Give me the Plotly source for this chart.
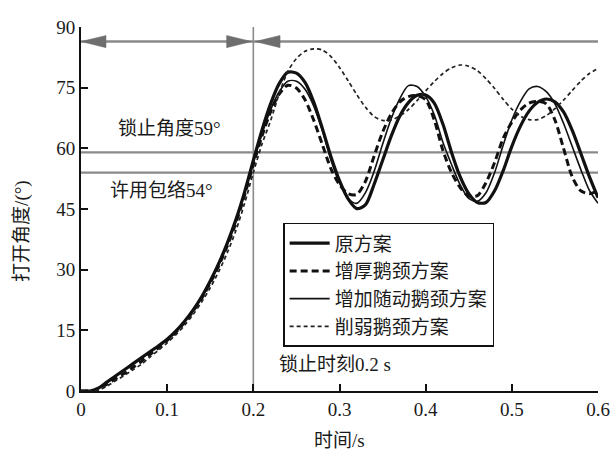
import plotly.graph_objects as go

# ---------------- data ----------------
TIME = [0.00, 0.01, 0.02, 0.03, 0.04, 0.05, 0.06, 0.07, 0.08, 0.09,
        0.10, 0.11, 0.12, 0.13, 0.14, 0.15, 0.16, 0.17, 0.18, 0.19,
        0.20, 0.21, 0.22, 0.23, 0.24, 0.25, 0.26, 0.27, 0.28, 0.29,
        0.30, 0.31, 0.32, 0.33, 0.34, 0.35, 0.36, 0.37, 0.38, 0.39,
        0.40, 0.41, 0.42, 0.43, 0.44, 0.45, 0.46, 0.47, 0.48, 0.49,
        0.50, 0.51, 0.52, 0.53, 0.54, 0.55, 0.56, 0.57, 0.58, 0.59,
        0.60]

ORIGINAL = [0, 0, 0.7, 2.2, 3.7, 5.2, 6.7, 8.2, 9.7, 11.2,
            12.8, 14.8, 17.2, 20.0, 23.3, 27.2, 31.6, 36.7, 42.5, 49.3,
            57.0, 64.5, 71.0, 76.0, 78.8, 78.6, 76.3, 71.5, 65.0, 58.0,
            52.0, 47.5, 45.1, 46.0, 51.0, 57.0, 63.0, 68.0, 71.3, 73.1,
            73.2, 71.2, 66.0, 59.0, 53.0, 48.8, 46.6, 46.6, 49.5, 54.5,
            60.5, 65.5, 69.2, 71.4, 72.2, 71.5, 69.0, 64.5, 58.8, 53.0,
            47.8]

THICKENED = [0, 0, 0.4, 1.7, 3.0, 4.3, 5.8, 7.3, 9.0, 10.7,
             12.5, 14.5, 16.9, 19.7, 22.9, 26.7, 31.0, 36.0, 41.7, 48.5,
             56.0, 63.0, 69.0, 73.4, 75.6, 74.9, 72.0, 67.0, 61.0, 55.0,
             51.0, 48.8, 48.6, 51.8, 58.0, 64.0, 68.5, 71.5, 72.8, 73.0,
             72.0, 67.0, 59.5, 54.0, 50.3, 48.2, 48.3, 51.5, 56.5, 62.5,
             66.5, 69.5, 71.2, 71.6, 71.0, 67.0, 60.0, 53.0, 49.5, 48.8,
             49.5]

FOLLOWER = [0, 0, 0.6, 2.1, 3.6, 5.1, 6.6, 8.1, 9.6, 11.1,
            12.7, 14.6, 17.0, 19.8, 23.0, 26.9, 31.3, 36.4, 42.2, 49.0,
            56.5, 63.5, 69.5, 74.0, 76.6, 76.6, 74.6, 70.5, 64.5, 57.2,
            51.5, 47.6, 46.4, 49.0, 54.2, 61.0, 67.3, 72.3, 75.5, 75.3,
            72.8, 68.3, 61.5, 56.0, 51.0, 47.6, 46.9, 49.0, 54.0, 60.8,
            67.0, 71.6, 74.7, 75.3, 74.0, 71.0, 66.2, 60.5, 54.8, 49.6,
            46.4]

WEAKENED = [0, 0, 0.2, 1.2, 2.5, 3.8, 5.2, 6.6, 8.4, 10.1,
            11.9, 13.9, 16.2, 18.9, 22.0, 25.5, 29.6, 34.3, 39.8, 46.5,
            54.0, 61.0, 66.8, 73.5, 79.0, 82.2, 84.0, 84.6, 84.3, 82.7,
            80.0, 76.7, 73.3, 70.2, 67.9, 66.9, 67.0, 68.0, 69.6, 71.8,
            74.2, 76.5, 78.5, 79.9, 80.6, 80.3, 79.2, 77.2, 74.8, 72.1,
            69.7, 68.0, 67.1, 67.1, 68.1, 69.8, 71.9, 74.3, 76.6, 78.5,
            79.7]

SERIES_NAMES = ["原方案", "增厚鹅颈方案", "增加随动鹅颈方案", "削弱鹅颈方案"]

LOCK_TIME = 0.2        # 锁止时刻 (s)
LOCK_ANGLE = 59        # 锁止角度 (deg)
ENVELOPE_ANGLE = 54    # 许用包络 (deg)
STAGE_LINE_Y = 86.4    # stage arrow level (deg)
T_MAX = 0.6
ANGLE_MAX = 90
X_TICKS = [0, 0.1, 0.2, 0.3, 0.4, 0.5, 0.6]
Y_TICKS = [0, 15, 30, 45, 60, 75, 90]

# ---------------- styling ----------------
FONT = "Liberation Serif, Noto Sans CJK SC, serif"
TXT = "#1a1a1a"
GRAY = "#8a8a8a"
ARROW_GRAY = "#6e6e6e"

styles = [
    dict(color="#111111", width=3.2, dash="solid"),
    dict(color="#111111", width=3.0, dash="7px,4px"),
    dict(color="#111111", width=1.6, dash="solid"),
    dict(color="#222222", width=1.7, dash="4px,3px"),
]
data_sets = [ORIGINAL, THICKENED, FOLLOWER, WEAKENED]

fig = go.Figure()
for name, ys, st in zip(SERIES_NAMES, data_sets, styles):
    fig.add_trace(go.Scatter(
        x=TIME, y=ys, mode="lines", name=name,
        line=dict(color=st["color"], width=st["width"], dash=st["dash"],
                  shape="spline", smoothing=0.8),
    ))

shapes = []
for yv in (LOCK_ANGLE, ENVELOPE_ANGLE):
    shapes.append(dict(type="line", xref="x", yref="y", x0=0, x1=T_MAX,
                       y0=yv, y1=yv, line=dict(color=GRAY, width=2.2),
                       layer="below"))
shapes.append(dict(type="line", xref="x", yref="y", x0=LOCK_TIME, x1=LOCK_TIME,
                   y0=0, y1=ANGLE_MAX, line=dict(color=GRAY, width=1.6),
                   layer="below"))
shapes.append(dict(type="line", xref="x", yref="y", x0=0, x1=T_MAX,
                   y0=STAGE_LINE_Y, y1=STAGE_LINE_Y,
                   line=dict(color=GRAY, width=2.6), layer="below"))

HEAD_LEN = 0.029
HEAD_HALF = 1.5


def head(tip, direction):
    base = tip - direction * HEAD_LEN
    return dict(type="path", xref="x", yref="y",
                path=f"M {tip},{STAGE_LINE_Y} L {base},{STAGE_LINE_Y + HEAD_HALF} "
                     f"L {base},{STAGE_LINE_Y - HEAD_HALF} Z",
                fillcolor=ARROW_GRAY, line=dict(color=ARROW_GRAY, width=0.5))


shapes.append(head(0.0, -1))
shapes.append(head(LOCK_TIME - 0.002, 1))
shapes.append(head(LOCK_TIME + 0.002, -1))


def ann(x, y, text, xanchor="center", ref="x", **kw):
    return dict(x=x, y=y, xref=ref if ref == "x" else "paper",
                yref="y" if ref == "x" else "paper", text=text, showarrow=False,
                font=dict(size=19, color=TXT, family=FONT),
                xanchor=xanchor, yanchor="middle", **kw)


annotations = [
    ann(0.1, 90.6, "展开阶段"),
    ann(0.391, 90.6, "锁止阶段"),
    ann(0.041, 64.8, "锁止角度59°", "left"),
    ann(0.031, 49.5, "许用包络54°", "left"),
    ann(0.227, 6.6, "锁止时刻0.2 s", "left"),
    ann(0.5, -0.135, "时间/s", "center", ref="paper"),
    ann(-0.114, 0.44, "打开角度/(°)", "center", ref="paper", textangle=-90),
]

fig.update_layout(
    width=614, height=458, autosize=False,
    margin=dict(l=81, r=16, t=27, b=67, pad=0),
    paper_bgcolor="white", plot_bgcolor="white",
    font=dict(family=FONT, size=19, color=TXT),
    shapes=shapes, annotations=annotations,
    showlegend=True,
    legend=dict(x=0.391, y=0.462, xanchor="left", yanchor="top",
                bgcolor="white", bordercolor="#111111", borderwidth=1.5,
                font=dict(size=19, family=FONT, color=TXT),
                tracegroupgap=0, itemwidth=40),
)
axis_common = dict(showgrid=False, zeroline=False, showline=True,
                   linecolor="#111111", linewidth=2, ticks="inside", ticklen=7,
                   tickwidth=1.6, tickcolor="#111111", mirror=False,
                   automargin=False,
                   tickfont=dict(size=19, family=FONT, color=TXT))
fig.update_xaxes(range=[0, T_MAX], tickvals=X_TICKS,
                 ticktext=[f"{v:g}" for v in X_TICKS], **axis_common)
fig.update_yaxes(range=[0, ANGLE_MAX], tickvals=Y_TICKS,
                 ticktext=[str(v) for v in Y_TICKS], **axis_common)

fig.write_html("out.html",
               config={"displayModeBar": False},
               post_script="document.body.style.margin='0';"
                           "document.body.style.overflow='hidden';")
